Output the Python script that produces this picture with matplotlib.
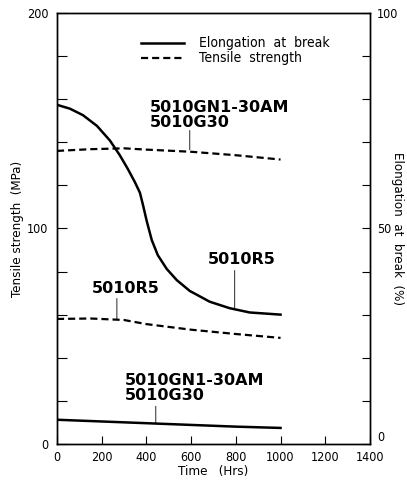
import matplotlib
matplotlib.use("Agg")
import matplotlib.pyplot as plt

plt.rcParams['font.family'] = ['DejaVu Sans']
plt.rcParams['font.stretch'] = 'condensed'

# Tensile strength (MPa), left axis
time_ts = [0, 150, 300, 400, 600, 800, 1000]
ts_g30 = [136, 136.8, 137.2, 136.6, 135.6, 134.0, 132.0]
ts_r5 = [58, 58.2, 57.5, 55.6, 53.0, 51.0, 49.2]

# Elongation at break (%), right axis
time_el_r5 = [0, 58, 116, 179, 237, 281, 317, 348, 371, 384, 402, 424, 451, 491, 536,
              594, 683, 772, 862, 1000]
el_r5 = [78.7, 77.8, 76.3, 73.8, 70.4, 67.0, 63.8, 60.8, 58.3, 55.6, 51.6, 47.3, 43.8,
         40.6, 38.0, 35.5, 33.0, 31.5, 30.5, 30.0]
time_el_g30 = [0, 200, 400, 600, 800, 1000]
el_g30 = [5.6, 5.2, 4.8, 4.4, 4.0, 3.7]

x_ticks = [0, 200, 400, 600, 800, 1000, 1200, 1400]
ts_ticks = list(range(0, 201, 20))
el_ticks = list(range(0, 101, 10))

fig = plt.figure(figsize=(4.07, 4.83), dpi=100)
ax = fig.add_axes([0.140, 0.081, 0.769, 0.892])
ax2 = ax.twinx()

dash = (0, (3.2, 1.8))
ax.plot(time_ts, ts_g30, color='black', lw=1.6, linestyle=dash)
ax.plot(time_ts, ts_r5, color='black', lw=1.6, linestyle=dash)
ax2.plot(time_el_r5, el_r5, color='black', lw=1.8, solid_joinstyle='round')
ax2.plot(time_el_g30, el_g30, color='black', lw=1.8)

ax.set_xlim(0, 1400)
ax.set_ylim(0, 200)
ax2.set_ylim(0, 100)
ax.set_xticks(x_ticks)
ax.set_yticks(ts_ticks)
ax.set_yticklabels([str(v) if v in (0, 100, 200) else '' for v in ts_ticks])
ax2.set_yticks(el_ticks)
ax2.set_yticklabels([str(v) if v in (0, 50, 100) else '' for v in el_ticks])

ax.tick_params(axis='y', direction='in', length=7, width=0.8, labelsize=9, pad=6)
ax.tick_params(axis='x', direction='in', length=6, width=0.8, labelsize=9, pad=5)
ax2.tick_params(axis='y', direction='in', length=6, width=0.8, labelsize=9, pad=5)
ax2.get_yticklabels()[0].set_va('bottom')
for a in (ax, ax2):
    for s in a.spines.values():
        s.set_linewidth(1.0)

ax.set_xlabel('Time   (Hrs)', fontsize=9.5, labelpad=1)
ax.set_ylabel('Tensile strength  (MPa)', fontsize=9.5, labelpad=2)
ax2.set_ylabel('Elongation  at  break  (%)', fontsize=9.5, rotation=-90, labelpad=4)

# legend
ax.plot([375, 570], [186, 186], color='black', lw=1.8)
ax.plot([375, 570], [179, 179], color='black', lw=1.6, linestyle=dash)
ax.text(635, 186, 'Elongation  at  break', fontsize=10, va='center')
ax.text(635, 179, 'Tensile  strength', fontsize=10, va='center')

bold = dict(fontsize=11.5, fontweight='bold', fontstretch='normal', linespacing=1.0)
lead = dict(arrowstyle='-', color='black', lw=0.6, shrinkA=0, shrinkB=0)

ax.text(415, 145.5, '5010GN1-30AM\n5010G30', va='bottom', ha='left', **bold)
ax.annotate('', xy=(594, 136.5), xytext=(594, 145.5), arrowprops=lead)

ax.text(675, 82, '5010R5', va='bottom', ha='left', **bold)
ax.annotate('', xy=(795, 62.5), xytext=(795, 80.5), arrowprops=lead)

ax.text(155, 68.5, '5010R5', va='bottom', ha='left', **bold)
ax.annotate('', xy=(268, 58), xytext=(268, 67.5), arrowprops=lead)

ax.text(305, 19, '5010GN1-30AM\n5010G30', va='bottom', ha='left', **bold)
ax.annotate('', xy=(442, 9.5), xytext=(442, 17.5), arrowprops=lead)

fig.savefig('out.png', dpi=100)
